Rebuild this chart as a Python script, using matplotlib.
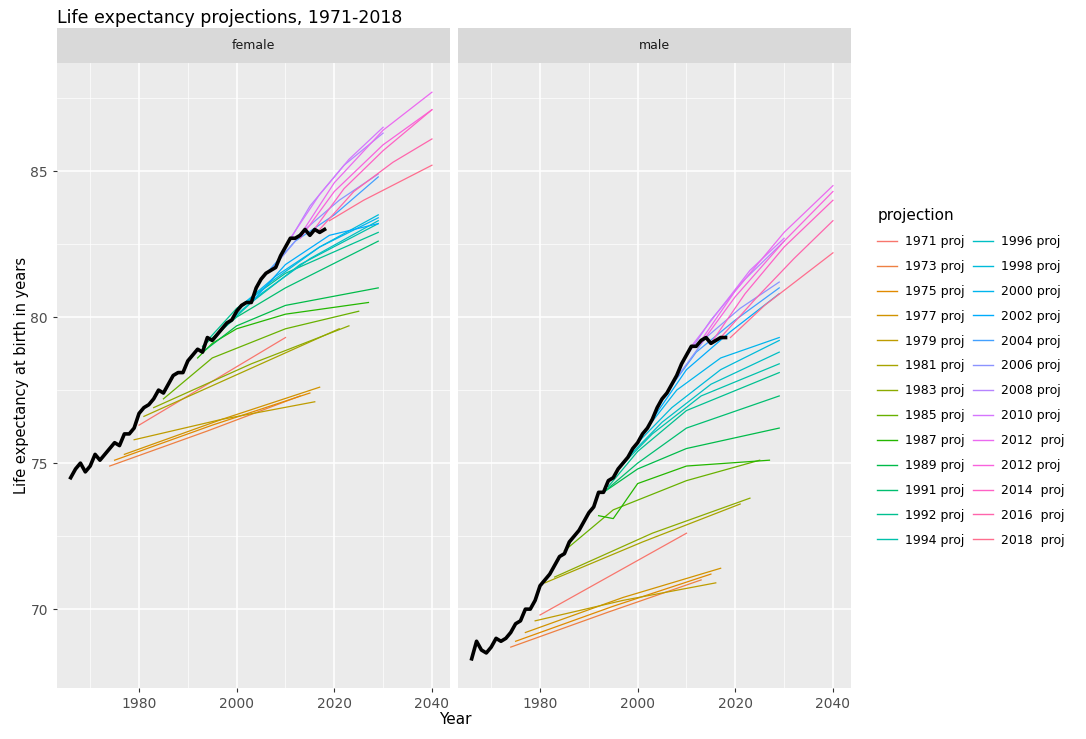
import numpy as np
import matplotlib
matplotlib.use('Agg')
import matplotlib.pyplot as plt
from matplotlib.lines import Line2D

# historical values 1966-2018
hist_years = list(range(1966, 2019))
hist_female = [74.5, 74.8, 75.0, 74.7, 74.9, 75.3, 75.1, 75.3, 75.5, 75.7, 75.6, 76.0, 76.0, 76.2,
               76.7, 76.9, 77.0, 77.2, 77.5, 77.4, 77.7, 78.0, 78.1, 78.1, 78.5, 78.7, 78.9, 78.8,
               79.3, 79.2, 79.4, 79.6, 79.8, 79.9, 80.2, 80.4, 80.5, 80.5, 81.0, 81.3, 81.5, 81.6,
               81.7, 82.1, 82.4, 82.7, 82.7, 82.8, 83.0, 82.8, 83.0, 82.9, 83.0]
hist_male = [68.3, 68.9, 68.6, 68.5, 68.7, 69.0, 68.9, 69.0, 69.2, 69.5, 69.6, 70.0, 70.0, 70.3,
             70.8, 71.0, 71.2, 71.5, 71.8, 71.9, 72.3, 72.5, 72.7, 73.0, 73.3, 73.5, 74.0, 74.0,
             74.4, 74.5, 74.8, 75.0, 75.2, 75.5, 75.7, 76.0, 76.2, 76.5, 76.9, 77.2, 77.4, 77.7,
             78.0, 78.4, 78.7, 79.0, 79.0, 79.2, 79.3, 79.1, 79.2, 79.3, 79.3]

proj_labels = ['1971 proj', '1973 proj', '1975 proj', '1977 proj', '1979 proj', '1981 proj',
               '1983 proj', '1985 proj', '1987 proj', '1989 proj', '1991 proj', '1992 proj',
               '1994 proj', '1996 proj', '1998 proj', '2000 proj', '2002 proj', '2004 proj',
               '2006 proj', '2008 proj', '2010 proj', '2012  proj', '2012 proj', '2014  proj',
               '2016  proj', '2018  proj']
proj_years = [[1980, 1995, 2010], [1974, 1994, 2013], [1975, 1995, 2015], [1977, 1997, 2017],
              [1979, 1997, 2016], [1981, 2001, 2021], [1983, 2003, 2023], [1985, 1995, 2010, 2025],
              [1992, 1995, 2000, 2010, 2027], [1993, 2000, 2010, 2029], [1993, 2000, 2010, 2029],
              [1994, 2000, 2010, 2029], [1996, 2003, 2013, 2029], [1998, 2005, 2015, 2029],
              [2000, 2007, 2017, 2029], [2001, 2008, 2017, 2029], [2003, 2010, 2019, 2029],
              [2005, 2012, 2020, 2029], [2007, 2014, 2021, 2029], [2009, 2015, 2022, 2030],
              [2011, 2017, 2023, 2030], [2013, 2020, 2030, 2040], [2013, 2020, 2030, 2040],
              [2015, 2022, 2030, 2040], [2017, 2024, 2032, 2040], [2019, 2026, 2033, 2040]]
proj_female = [[76.3, 77.8, 79.3], [74.9, 76.1, 77.3], [75.1, 76.3, 77.4], [75.3, 76.5, 77.6],
               [75.8, 76.5, 77.1], [76.6, 78.1, 79.6], [76.9, 78.4, 79.7], [77.2, 78.6, 79.6, 80.2],
               [78.6, 79.1, 79.6, 80.1, 80.5], [78.8, 79.7, 80.4, 81.0], [79.0, 80.0, 81.0, 82.6],
               [79.2, 80.3, 81.5, 82.9], [79.4, 80.5, 81.8, 83.2], [79.8, 80.8, 82.0, 83.3],
               [80.2, 81.2, 82.4, 83.5], [80.4, 81.4, 82.4, 83.4], [80.5, 81.8, 82.8, 83.2],
               [81.3, 82.6, 83.5, 84.8], [81.6, 83.0, 84.0, 84.9], [82.1, 83.8, 85.2, 86.3],
               [82.7, 84.2, 85.4, 86.5], [82.8, 84.6, 86.4, 87.7], [82.7, 84.3, 85.9, 87.1],
               [82.8, 84.4, 85.7, 87.1], [83.0, 84.3, 85.3, 86.1], [83.3, 84.0, 84.6, 85.2]]
proj_male = [[69.8, 71.2, 72.6], [68.7, 69.9, 71.0], [68.9, 70.1, 71.2], [69.2, 70.4, 71.4],
             [69.6, 70.3, 70.9], [70.9, 72.3, 73.6], [71.1, 72.6, 73.8], [72.0, 73.4, 74.4, 75.1],
             [73.2, 73.1, 74.3, 74.9, 75.1], [74.0, 74.8, 75.5, 76.2], [74.0, 75.0, 76.2, 77.3],
             [74.2, 75.4, 76.8, 78.1], [74.8, 76.0, 77.3, 78.4], [75.2, 76.4, 77.7, 78.8],
             [75.7, 76.9, 78.2, 79.2], [76.0, 77.5, 78.6, 79.3], [76.5, 78.2, 79.5, 80.8],
             [77.2, 78.8, 79.9, 81.0], [77.7, 79.3, 80.3, 81.2], [78.4, 79.9, 81.3, 82.6],
             [79.0, 80.3, 81.6, 82.7], [79.2, 80.9, 82.9, 84.5], [79.1, 80.7, 82.6, 84.3],
             [79.1, 80.8, 82.4, 84.0], [79.3, 80.6, 82.0, 83.3], [79.3, 80.4, 81.3, 82.2]]


def hcl_to_hex(h, c=100, l=65):
    # ggplot2 style hue palette (polar CIELUV -> sRGB)
    hr = np.deg2rad(h)
    u, v = c * np.cos(hr), c * np.sin(hr)
    un, vn = 0.19784, 0.46834
    Y = ((l + 16) / 116) ** 3 if l > 8 else l / 903.3
    up, vp = u / (13 * l) + un, v / (13 * l) + vn
    X = Y * 9 * up / (4 * vp)
    Z = Y * (12 - 3 * up - 20 * vp) / (4 * vp)
    M = np.array([[3.2406, -1.5372, -0.4986], [-0.9689, 1.8758, 0.0415], [0.0557, -0.2040, 1.0570]])
    rgb = M @ np.array([X, Y, Z])
    rgb = np.where(rgb <= 0.0031308, 12.92 * rgb, 1.055 * np.clip(rgb, 0, None) ** (1 / 2.4) - 0.055)
    return tuple(np.clip(rgb, 0, 1))


n = len(proj_labels)
hues = np.linspace(15, 375, n + 1)[:-1]
colors = [hcl_to_hex(h) for h in hues]

W, H = 1086, 739
fig = plt.figure(figsize=(W / 100, H / 100), dpi=100)
fig.patch.set_facecolor('white')

panels = [('female', 57, proj_female, hist_female), ('male', 458, proj_male, hist_male)]
for name, px, pdata, hdata in panels:
    ax = fig.add_axes([px / W, (H - 688) / H, 393 / W, (688 - 63) / H])
    ax.set_facecolor('#EBEBEB')
    ax.set_xlim(1963.2, 2043.7)
    ax.set_ylim(67.3, 88.7)
    ax.set_xticks([1980, 2000, 2020, 2040])
    ax.set_xticks([1970, 1990, 2010, 2030], minor=True)
    ax.set_yticks([70, 75, 80, 85])
    ax.set_yticks([72.5, 77.5, 82.5, 87.5], minor=True)
    ax.grid(True, which='major', color='white', lw=1.1)
    ax.grid(True, which='minor', color='white', lw=0.5)
    ax.set_axisbelow(True)
    for s in ax.spines.values():
        s.set_visible(False)
    ax.tick_params(which='both', colors='#333333', labelcolor='#4D4D4D', labelsize=10, length=3)
    ax.tick_params(which='minor', length=0)
    if name == 'male':
        ax.set_yticklabels([])
        ax.tick_params(axis='y', length=0)
    for i in range(n):
        ax.plot(proj_years[i], pdata[i], color=colors[i], lw=0.9)
    ax.plot(hist_years, hdata, color='black', lw=2.6)
    sax = fig.add_axes([px / W, (H - 63) / H, 393 / W, 35 / H])
    sax.set_facecolor('#D9D9D9')
    sax.set_xticks([]); sax.set_yticks([])
    for s in sax.spines.values():
        s.set_visible(False)
    sax.text(0.5, 0.5, name, ha='center', va='center', fontsize=9, color='#1A1A1A', transform=sax.transAxes)

fig.text(57 / W, 1 - 18 / H, 'Life expectancy projections, 1971-2018', fontsize=12.5, va='center', ha='left')
fig.text(455 / W, 1 - 720 / H, 'Year', fontsize=11, ha='center', va='center')
fig.text(22 / W, 1 - 375 / H, 'Life expectancy at birth in years', fontsize=10.5, rotation=90, ha='center', va='center')

handles = [Line2D([], [], color=colors[i], lw=1) for i in range(n)]
leg = fig.legend(handles, proj_labels, loc='upper left', bbox_to_anchor=(866 / W, 1 - 197 / H),
                 ncol=2, frameon=False, fontsize=9, title='projection', title_fontsize=11,
                 handlelength=1.6, labelspacing=0.95, columnspacing=0.7, handletextpad=0.6)
leg._legend_box.align = 'left'
for h in leg.legend_handles:
    h.set_linewidth(1)

fig.savefig('out.png', dpi=100)
